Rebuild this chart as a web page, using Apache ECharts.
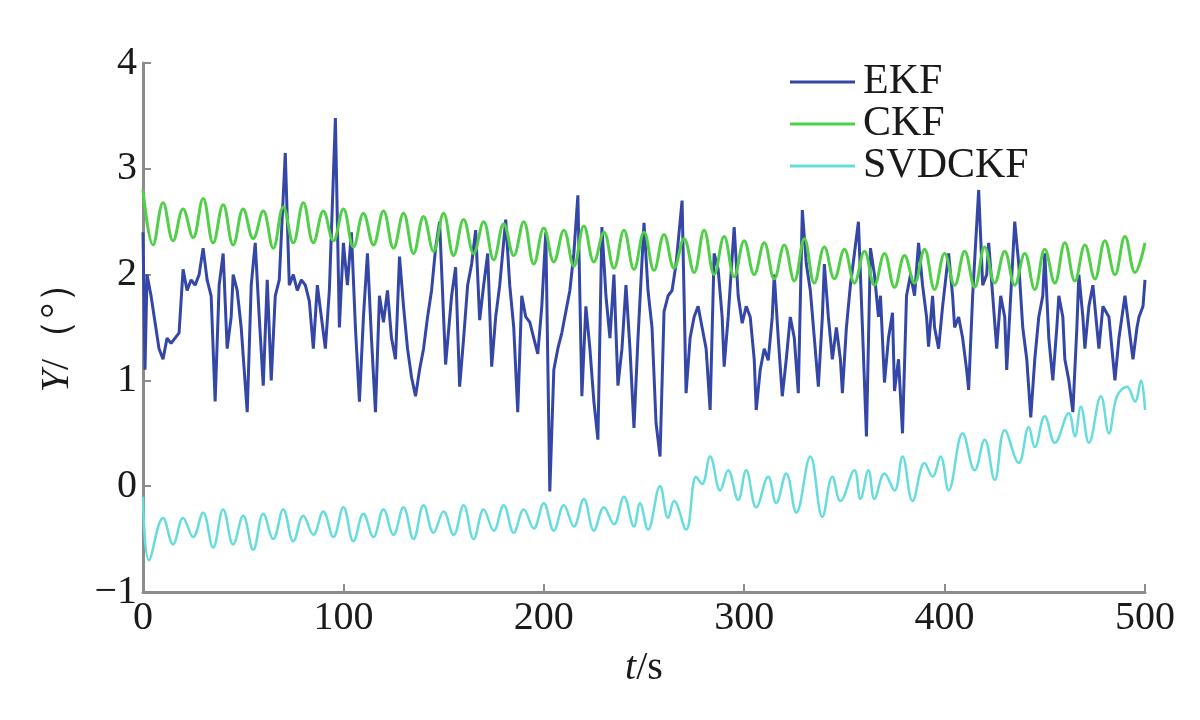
<!DOCTYPE html>
<html><head><meta charset="utf-8">
<script src="https://cdn.jsdelivr.net/npm/echarts@6/dist/echarts.min.js"></script>
<style>html,body{margin:0;padding:0;background:#fff}#c{width:1200px;height:720px}</style>
</head><body><div id="c"></div>
<script>
const seriesNames = ['EKF', 'CKF', 'SVDCKF'];
const xTicks = [0, 100, 200, 300, 400, 500];
const yTicks = [-1, 0, 1, 2, 3, 4];

const ekfT = [0,1,2,4,6,8,10,12,14,16,18,20,22,24,26,28,30,32,34,36,38,40,42,44,45,47,49,52,54,56,58,60,62,64,66,68,71,73,75,77,79,81,83,85,87,89,91,93,96,98,100,102,104,106,108,110,112,114,116,118,120,122,124,126,128,130,132,134,136,138,140,142,144,146,148,150,151,154,156,158,160,162,164,166,168,170,172,174,176,178,181,183,185,187,189,191,193,195,197,199,201,203,205,207,209,211,213,215,217,219,221,223,225,227,229,231,233,235,237,239,241,243,245,247,250,252,254,256,258,260,262,264,266,269,271,273,275,277,279,281,283,285,287,289,290,292,295,297,299,301,303,305,306,308,310,312,314,315,317,319,321,323,325,327,329,331,333,335,337,339,340,342,344,346,348,349,351,353,355,357,359,361,363,365,367,368,370,372,374,375,377,379,381,383,385,387,389,391,392,394,395,397,399,402,404,405,407,409,411,412,414,417,419,421,422,424,426,428,430,431,433,435,437,439,441,443,445,447,449,450,452,454,456,457,459,460,462,464,466,467,469,470,472,474,476,477,479,482,484,485,487,490,492,494,496,497,499,500];
const ekfV = [2.40,1.10,2.00,1.80,1.55,1.30,1.20,1.40,1.35,1.40,1.45,2.05,1.85,1.95,1.90,2.00,2.25,1.95,1.80,0.80,1.90,2.20,1.30,1.60,2.00,1.85,1.50,0.70,1.90,2.30,1.60,0.95,1.95,1.00,1.80,1.95,3.15,1.90,2.00,1.85,1.95,1.90,1.75,1.30,1.90,1.60,1.30,1.85,3.48,1.50,2.30,1.90,2.40,1.50,0.80,1.60,2.20,1.40,0.70,1.80,1.55,1.85,1.40,1.20,2.17,1.70,1.30,1.03,0.85,1.10,1.30,1.60,1.85,2.25,2.50,1.60,1.15,1.80,2.07,0.94,1.40,1.90,2.10,2.42,1.57,1.90,2.20,1.13,1.60,1.90,2.52,1.90,1.50,0.70,1.80,1.60,1.55,1.40,1.25,1.70,2.40,-0.05,1.10,1.30,1.45,1.65,1.85,2.20,2.75,0.85,1.70,1.30,0.80,0.44,2.45,1.80,1.40,2.00,0.95,1.30,1.90,1.30,0.55,1.40,2.49,1.85,1.50,0.60,0.28,1.65,1.80,1.85,2.10,2.70,0.88,1.40,1.60,1.70,1.50,1.30,0.72,2.20,2.05,1.60,1.13,1.60,2.45,1.80,1.54,1.70,1.60,1.20,0.72,1.10,1.30,1.19,1.60,2.00,1.40,0.85,1.20,1.60,1.40,0.88,2.61,2.10,1.85,1.40,0.94,1.60,2.10,1.60,1.20,1.50,1.20,0.88,1.50,1.90,2.20,2.50,1.50,0.47,2.25,2.00,1.60,1.80,0.98,1.40,1.64,0.90,1.20,0.50,1.80,2.00,1.80,2.30,1.90,1.60,1.32,1.80,1.50,1.30,1.70,2.20,1.80,1.50,1.60,1.40,1.10,0.91,1.80,2.80,1.90,2.00,2.30,1.80,1.30,1.80,1.60,1.10,1.80,2.50,2.10,1.50,1.20,0.65,1.20,1.60,1.80,2.20,1.40,1.00,1.50,1.80,1.60,1.20,1.00,0.70,1.50,2.00,1.60,1.30,1.70,1.90,1.50,1.30,1.70,1.60,1.20,1.00,1.40,1.80,1.50,1.20,1.50,1.60,1.70,1.95];

const ckfT = [0,5,10,15,20,25,30,35,40,45,50,55,60,65,70,75,80,85,90,95,100,105,110,115,120,125,130,135,140,145,150,155,160,165,170,175,180,185,190,195,200,205,210,215,220,225,230,235,240,245,250,255,260,265,270,275,280,285,290,295,300,305,310,315,320,325,330,335,340,345,350,355,360,365,370,375,380,385,390,395,400,405,410,415,420,425,430,435,440,445,450,455,460,465,470,475,480,485,490,495,500];
const ckfV = [2.80,2.28,2.68,2.32,2.62,2.35,2.72,2.30,2.66,2.28,2.62,2.34,2.60,2.25,2.64,2.30,2.68,2.30,2.60,2.32,2.62,2.26,2.58,2.28,2.60,2.25,2.58,2.20,2.55,2.22,2.58,2.18,2.52,2.20,2.50,2.14,2.48,2.18,2.50,2.10,2.44,2.12,2.42,2.08,2.46,2.12,2.40,2.06,2.42,2.05,2.40,2.04,2.38,2.06,2.34,2.02,2.42,2.00,2.36,1.98,2.32,2.00,2.30,1.96,2.28,1.94,2.34,1.92,2.26,1.96,2.24,1.92,2.22,1.90,2.20,1.88,2.18,1.92,2.24,1.86,2.20,1.90,2.22,1.88,2.26,1.92,2.22,1.90,2.20,1.86,2.24,1.92,2.30,1.94,2.28,1.96,2.32,2.00,2.36,2.02,2.30];

const svdT = [0,3,10,15,20,25,30,35,40,45,50,55,60,65,70,75,80,85,90,95,100,105,110,115,120,125,130,135,140,145,150,155,160,165,170,175,180,185,190,195,200,205,210,215,220,225,230,235,240,245,248,252,258,262,265,271,276,279,283,288,292,297,301,306,312,316,321,326,333,339,344,348,355,358,362,365,370,375,379,384,390,394,398,402,409,415,420,425,430,437,442,445,450,455,462,465,468,472,478,482,486,491,495,498,500];
const svdV = [-0.10,-0.70,-0.30,-0.55,-0.30,-0.48,-0.25,-0.58,-0.22,-0.55,-0.28,-0.60,-0.26,-0.50,-0.22,-0.52,-0.28,-0.46,-0.24,-0.48,-0.20,-0.52,-0.26,-0.48,-0.22,-0.46,-0.20,-0.50,-0.18,-0.44,-0.24,-0.46,-0.18,-0.50,-0.22,-0.42,-0.18,-0.44,-0.22,-0.40,-0.16,-0.42,-0.18,-0.38,-0.12,-0.42,-0.20,-0.36,-0.10,-0.38,-0.16,-0.41,0.00,-0.30,-0.14,-0.41,0.09,0.02,0.28,-0.04,0.15,-0.13,0.15,-0.20,0.09,-0.16,0.12,-0.25,0.28,-0.29,0.09,-0.14,0.15,-0.12,0.15,-0.12,0.12,-0.04,0.28,-0.14,0.22,0.09,0.28,-0.04,0.50,0.15,0.44,0.06,0.53,0.22,0.56,0.37,0.66,0.41,0.69,0.47,0.75,0.41,0.85,0.50,0.85,0.94,0.80,1.00,0.72];

const zip = (t, v) => t.map((x, i) => [x, v[i]]);
const serif = "'Liberation Serif','DejaVu Serif',serif";
const axisColor = '#8c8c8c';

const chart = echarts.init(document.getElementById('c'));
chart.setOption({
  animation: false,
  backgroundColor: '#fff',
  grid: { left: 143, right: 55, top: 63, bottom: 128, containLabel: false },
  legend: {
    orient: 'vertical', left: 785, top: 56, itemGap: 0,
    icon: 'rect', itemWidth: 65, itemHeight: 3,
    textStyle: { fontFamily: serif, fontSize: 42, color: '#1a1a1a', lineHeight: 37, padding: [0, 0, 0, 3] },
    data: seriesNames
  },
  xAxis: {
    type: 'value', min: xTicks[0], max: xTicks[xTicks.length - 1], interval: 100,
    name: '{i|t}/s', nameLocation: 'middle', nameGap: 56,
    nameTextStyle: { fontFamily: serif, fontSize: 40, color: '#1a1a1a',
      rich: { i: { fontFamily: serif, fontStyle: 'italic', fontSize: 40, color: '#1a1a1a' } } },
    axisLine: { onZero: false, lineStyle: { color: axisColor, width: 3 } },
    axisTick: { inside: true, length: 8, lineStyle: { color: axisColor, width: 2 } },
    axisLabel: { fontFamily: serif, fontSize: 40, color: '#1a1a1a', margin: 6 },
    splitLine: { show: false }
  },
  yAxis: {
    type: 'value', min: yTicks[0], max: yTicks[yTicks.length - 1], interval: 1,
    name: '{i|Y}/（°）', nameLocation: 'middle', nameGap: 66, nameRotate: 90,
    nameTextStyle: { fontFamily: serif, fontSize: 40, color: '#1a1a1a',
      rich: { i: { fontFamily: serif, fontStyle: 'italic', fontSize: 40, color: '#1a1a1a' } } },
    axisLine: { onZero: false, lineStyle: { color: axisColor, width: 3 } },
    axisTick: { inside: true, length: 8, lineStyle: { color: axisColor, width: 2 } },
    axisLabel: { fontFamily: serif, fontSize: 40, color: '#1a1a1a', margin: 6,
      formatter: v => (v < 0 ? '−' + (-v) : String(v)) },
    splitLine: { show: false }
  },
  series: [
    { name: seriesNames[0], type: 'line', data: zip(ekfT, ekfV), showSymbol: false,
      lineStyle: { color: '#3447a6', width: 3 }, itemStyle: { color: '#3447a6' } },
    { name: seriesNames[1], type: 'line', data: zip(ckfT, ckfV), showSymbol: false, smooth: 0.4,
      lineStyle: { color: '#52cf48', width: 3 }, itemStyle: { color: '#52cf48' } },
    { name: seriesNames[2], type: 'line', data: zip(svdT, svdV), showSymbol: false, smooth: 0.4,
      lineStyle: { color: '#66dcdc', width: 2.5 }, itemStyle: { color: '#66dcdc' } }
  ]
});
</script></body></html>
